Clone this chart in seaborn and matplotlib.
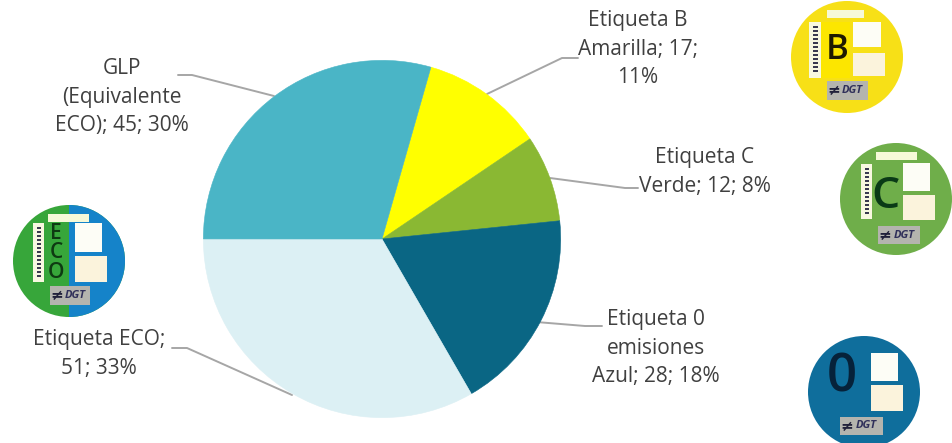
import matplotlib
matplotlib.use("Agg")
import matplotlib.pyplot as plt
from matplotlib.patches import Circle, Rectangle
import seaborn as sns

# Data
categories = ["Etiqueta B Amarilla", "Etiqueta C Verde", "Etiqueta 0 emisiones Azul", "Etiqueta ECO", "GLP (Equivalente ECO)"]
values = [17, 12, 28, 51, 45]
colors = ["#FFFF00", "#8AB833", "#0A6684", "#DCF0F4", "#4AB5C6"]
labels = [
    "Etiqueta B\nAmarilla; 17;\n11%",
    "Etiqueta C\nVerde; 12; 8%",
    "Etiqueta 0\nemisiones\nAzul; 28; 18%",
    "Etiqueta ECO;\n51; 33%",
    "GLP\n(Equivalente\nECO); 45; 30%",
]

sns.set_theme(style="white")
plt.rcParams["font.family"] = ["Open Sans", "DejaVu Sans"]

W, H = 953, 443
fig = plt.figure(figsize=(W / 100, H / 100), dpi=100)

# overlay in image pixels for labels, leaders and badges
ov = fig.add_axes([0, 0, 1, 1])
ov.set_xlim(0, W)
ov.set_ylim(H, 0)
ov.axis("off")

# Pie
cx, cy, r = 382, 239, 179
ax = fig.add_axes([(cx - r) / W, (H - cy - r) / H, 2 * r / W, 2 * r / H])
wedges, _ = ax.pie(values, colors=colors, startangle=74.1, counterclock=False, radius=1)
for w in wedges:
    # hide the antialias seam between slices
    w.set_edgecolor(w.get_facecolor())
    w.set_linewidth(0.4)
ax.set_xlim(-1.002, 1.002)
ax.set_ylim(-1.002, 1.002)

# Label text + leader lines
label_pos = [(638, 49), (705, 172), (656, 348), (99, 354), (122, 97)]
leaders = [
    [(578, 58), (562, 58), (487, 94)],
    [(638, 188), (625, 188), (550, 178)],
    [(602, 326), (585, 326), (524, 321)],
    [(172, 348), (187, 348), (292, 395)],
    [(178, 75), (192, 75), (274, 96)],
]
for lab, (x, y), pts in zip(labels, label_pos, leaders):
    ov.text(x, y, lab, ha="center", va="center", fontsize=15, color="#404040", linespacing=1.47)
    ov.plot([p[0] for p in pts], [p[1] for p in pts], color="#A6A6A6", lw=1.4, zorder=3,
            solid_capstyle="round")


def box(x0, x1, y0, y1, bx, by, color, z=5, clip=None):
    p = Rectangle((bx + x0, by + y0), x1 - x0, y1 - y0, fc=color, ec="none", zorder=z)
    ov.add_patch(p)
    if clip is not None:
        p.set_clip_path(clip)
    return p


def badge(bx, by, col, top=None, barcode=None, box1=(6, 34, -36, -9), box2=(6, 38, -5, 20),
          logo=(-20, 21, 25, 44), split=None):
    disc = Circle((bx, by), 56, fc=col, ec="none", zorder=4)
    ov.add_patch(disc)
    if split:
        box(0, 60, -60, 60, bx, by, split, clip=disc)
    if top:
        box(top[0], top[1], -47, -39, bx, by, "#F6F9D8")
    if barcode:
        box(barcode[0], barcode[1], barcode[2], barcode[3], bx, by, "#F8F8E0")
        for yy in range(barcode[2] + 4, barcode[3] - 4, 4):
            box(barcode[0] + 4, barcode[1] - 3, yy, yy + 2, bx, by, "#3A3A50", z=6)
    box(box1[0], box1[1], box1[2], box1[3], bx, by, "#FDFDF6")
    box(box2[0], box2[1], box2[2], box2[3], bx, by, "#FBF3DC")
    box(logo[0], logo[1], logo[2], logo[3], bx, by, "#B4B4AE")
    ov.text(bx + (logo[0] + logo[1]) / 2 + 5, by + (logo[2] + logo[3]) / 2, "DGT", ha="center", va="center",
            fontsize=8, style="italic", fontweight="bold", color="#30305A", zorder=7)
    ov.text(bx + logo[0] + 7, by + (logo[2] + logo[3]) / 2, "≠", ha="center", va="center",
            fontsize=11, fontweight="bold", color="#20203A", zorder=7, family="DejaVu Sans")


# Badges
badge(847, 57, "#F7E017", top=(-20, 17), barcode=(-38, -26, -35, 21),
      box1=(6, 34, -35, -10), box2=(6, 38, -4, 19), logo=(-20, 21, 24, 43))
box(-26, 3, -35, 21, 847, 57, "#FCE600")
ov.text(837, 50, "B", ha="center", va="center", fontsize=25, fontweight="semibold", color="#1E1A00", zorder=7)

badge(896, 199, "#6FAE4A", top=(-20, 21), barcode=(-35, -24, -35, 20),
      box1=(7, 34, -36, -8), box2=(7, 39, -4, 21), logo=(-18, 24, 27, 45))
ov.text(886, 196, "C", ha="center", va="center", fontsize=32, fontweight="semibold", color="#0A3A16", zorder=7)

badge(69, 261, "#37A63A", top=(-21, 20), barcode=(-36, -25, -38, 21),
      box1=(6, 33, -38, -9), box2=(6, 38, -5, 21), logo=(-19, 21, 25, 44), split="#1583C9")
for ch, dy in zip("ECO", (-28, -9, 11)):
    ov.text(56, 261 + dy, ch, ha="center", va="center", fontsize=15, fontweight="semibold", color="#0E3A12", zorder=7)

badge(864, 392, "#0F6E9C", box1=(7, 34, -39, -11), box2=(7, 39, -7, 19), logo=(-24, 19, 25, 43))
ov.text(842, 378, "0", ha="center", va="center", fontsize=38, fontweight="semibold", color="#06223A", zorder=7)

fig.savefig("out.png", dpi=100, facecolor="white")
